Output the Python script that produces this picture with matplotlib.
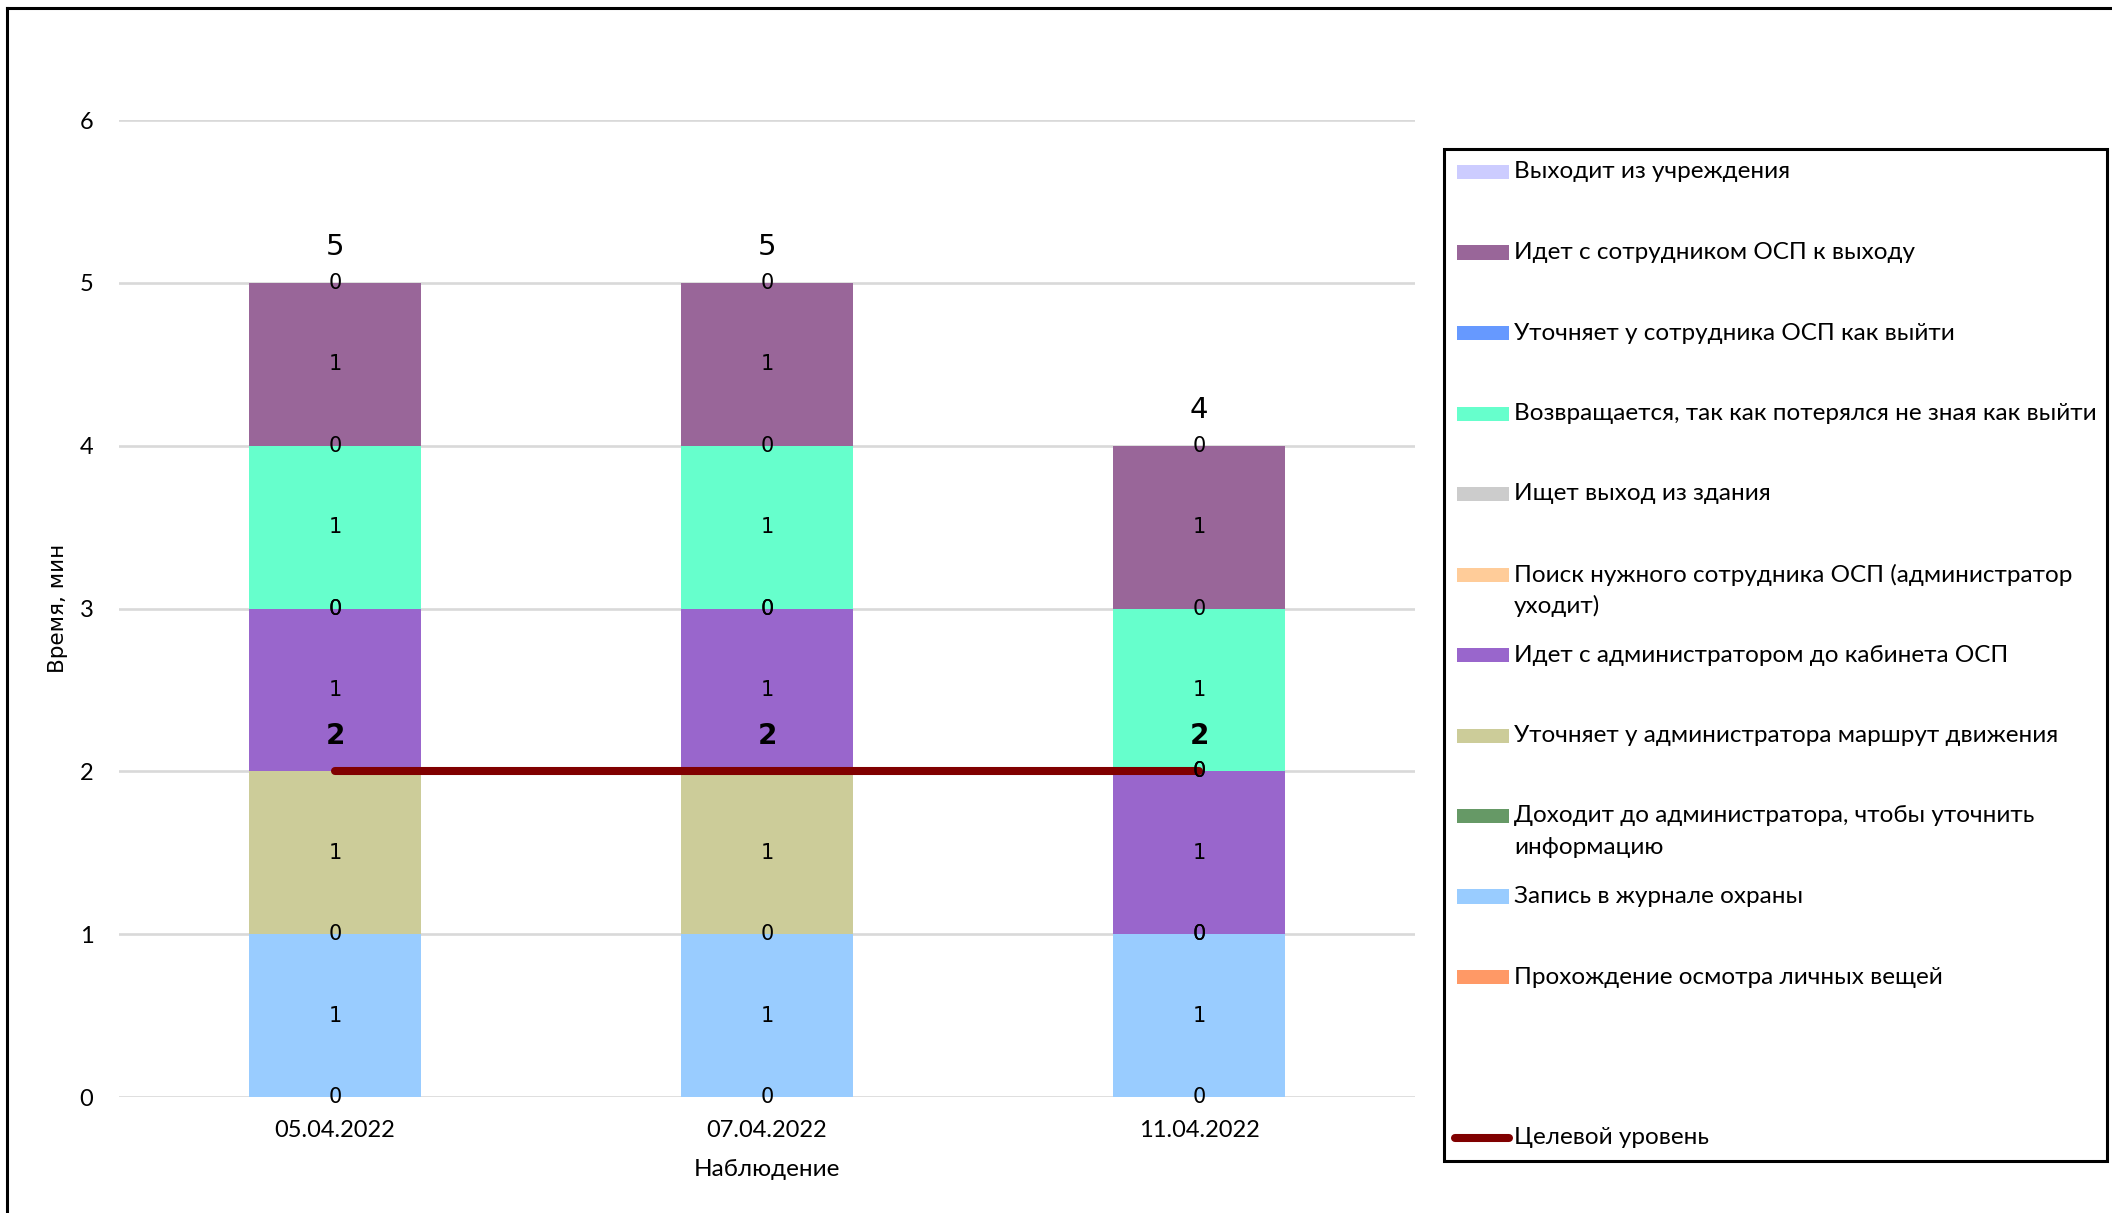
import matplotlib
matplotlib.use("Agg")
import matplotlib.pyplot as plt
from matplotlib.patches import Rectangle
from matplotlib.lines import Line2D
import numpy as np

# observations
dates = ["05.04.2022", "07.04.2022", "11.04.2022"]

# stacked series, bottom to top (minutes)
series_names = [
    "Прохождение осмотра личных вещей",
    "Запись в журнале охраны",
    "Доходит до администратора, чтобы уточнить\nинформацию",
    "Уточняет у администратора маршрут движения",
    "Идет с администратором до кабинета ОСП",
    "Поиск нужного сотрудника ОСП (администратор\nуходит)",
    "Ищет выход из здания",
    "Возвращается, так как потерялся не зная как выйти",
    "Уточняет у сотрудника ОСП как выйти",
    "Идет с сотрудником ОСП к выходу",
    "Выходит из учреждения",
]
prohozhdenie = [0, 0, 0]
zapis = [1, 1, 1]
dohodit = [0, 0, 0]
utochnyaet_adm = [1, 1, 0]
idet_adm = [1, 1, 1]
poisk = [0, 0, 0]
ishchet = [0, 0, 0]
vozvrashchaetsya = [1, 1, 1]
utochnyaet_sotr = [0, 0, 0]
idet_sotr = [1, 1, 1]
vyhodit = [0, 0, 0]
series_vals = [prohozhdenie, zapis, dohodit, utochnyaet_adm, idet_adm, poisk,
               ishchet, vozvrashchaetsya, utochnyaet_sotr, idet_sotr, vyhodit]
series_colors = ["#FF9966", "#99CCFF", "#669966", "#CCCC99", "#9966CC", "#FFCC99",
                 "#CCCCCC", "#66FFCC", "#6699FF", "#996699", "#CCCCFF"]

target = [2, 2, 2]
target_name = "Целевой уровень"

W, H = 2112, 1213
DPI = 100
fig = plt.figure(figsize=(W / DPI, H / DPI), dpi=DPI, facecolor="white")

def fx(px):
    return px / W

def fy(py):
    return 1 - py / H

ax = fig.add_axes([fx(119), fy(1097), fx(1415) - fx(119), fy(120) - fy(1097)])

x = np.arange(len(dates))
bottom = np.zeros(len(dates))
for vals, col in zip(series_vals, series_colors):
    v = np.array(vals, dtype=float)
    ax.bar(x, v, bottom=bottom, width=0.4, color=col, zorder=2)
    for i in range(len(x)):
        ax.text(x[i], bottom[i] + v[i] / 2, str(vals[i]), ha="center", va="center",
                fontsize=15, family="DejaVu Sans", color="black", zorder=6)
    bottom = bottom + v

totals = bottom
for i in range(len(x)):
    ax.annotate(str(int(totals[i])), (x[i], totals[i]), xytext=(0, 20),
                textcoords="offset points", ha="center", va="baseline",
                fontsize=21, family="DejaVu Sans", zorder=6)

ax.plot(x, target, color="#800000", lw=5.8, solid_capstyle="round", zorder=4)
for i in range(len(x)):
    ax.annotate(str(target[i]), (x[i], target[i]), xytext=(0, 19.5),
                textcoords="offset points", ha="center", va="baseline",
                fontsize=20, fontweight="bold", family="DejaVu Sans", zorder=6)

ax.set_xlim(-0.5, 2.5)
ax.set_ylim(0, 6)
ax.set_yticks(range(0, 7))
ax.set_xticks(x)
ax.set_xticklabels(dates)
ax.yaxis.grid(True, color="#D9D9D9", lw=1.9, zorder=0)
ax.set_axisbelow(True)
for s in ax.spines.values():
    s.set_visible(False)
ax.tick_params(axis="both", length=0, labelsize=17)
ax.tick_params(axis="y", pad=18.5)
ax.tick_params(axis="x", pad=16.5)
for lab in ax.get_xticklabels() + ax.get_yticklabels():
    lab.set_family("Lato")

fig.text(fx(58), fy(608), "Время, мин", rotation=90, ha="center", va="center",
         fontsize=15.5, family="DejaVu Sans")
fig.text(fx(767), fy(1170), "Наблюдение", ha="center", va="center",
         fontsize=17.5, family="Lato")

# outer chart border (cut at right and bottom)
fig.add_artist(Line2D([fx(7), 1], [fy(8), fy(8)], color="black", lw=2.2))
fig.add_artist(Line2D([fx(7), fx(7)], [fy(8), 0], color="black", lw=2.2))

# legend box
fig.add_artist(Rectangle((fx(1444), fy(1161)), fx(2107) - fx(1444), fy(149) - fy(1161),
                         facecolor="white", edgecolor="black", lw=2.2))

step = 80.5
y0 = 172
legend_items = list(zip(series_names, series_colors))[::-1]
for k, (name, col) in enumerate(legend_items):
    yc = y0 + k * step
    fig.add_artist(Rectangle((fx(1457), fy(yc + 7)), fx(1509) - fx(1457), fy(yc - 7) - fy(yc + 7),
                             facecolor=col, edgecolor="none"))
    for j, line in enumerate(name.split("\n")):
        fig.text(fx(1514), fy(yc + j * 31.5), line, ha="left", va="center",
                 fontsize=17.5, family="Lato")

yl = y0 + 12 * step
fig.add_artist(Line2D([fx(1455), fx(1509)], [fy(yl), fy(yl)], color="#800000", lw=5.8,
                      solid_capstyle="round"))
fig.text(fx(1514), fy(yl), target_name, ha="left", va="center", fontsize=17.5, family="Lato")

fig.savefig("out.png", dpi=DPI, facecolor="white")
